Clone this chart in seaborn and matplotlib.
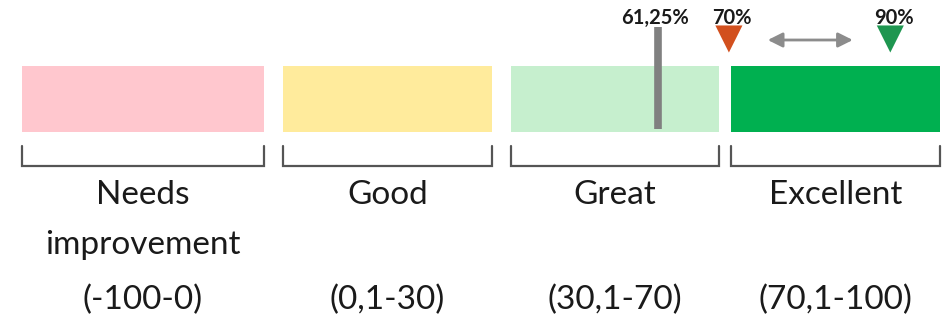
import matplotlib
matplotlib.use("Agg")
import matplotlib.pyplot as plt
import numpy as np
import pandas as pd
import seaborn as sns

sns.set_theme(style="white")
plt.rcParams["font.family"] = ["Lato", "DejaVu Sans"]

# Score bands
categories = ["Needs\nimprovement", "Good", "Great", "Excellent"]
ranges = ["(-100-0)", "(0,1-30)", "(30,1-70)", "(70,1-100)"]
band_colors = ["#FFC7CE", "#FFEB9C", "#C6EFCE", "#00B050"]

# Scores shown above the bands
current_score = 61.25
markers = [70, 90]
marker_colors = ["#D2501E", "#1E9650"]

# Layout (pixel-based canvas)
W, H = 943, 323
band_left = [22, 283, 511, 731]
band_right = [264, 492, 719, 940]
band_top, band_bottom = 66, 132
bracket_top, bracket_bottom = 146, 166
name_baseline, line_step, range_baseline = 204, 50, 309

# Linear score scale for the marker row
zero_px, px_per_unit = 164.0, 8.07

fig = plt.figure(figsize=(W / 100, H / 100), dpi=100)
ax = fig.add_axes([0, 0, 1, 1])
ax.set_xlim(0, W)
ax.set_ylim(H, 0)
ax.axis("off")

widths = np.array(band_right) - np.array(band_left)
ax.bar(band_left, band_bottom - band_top, width=widths, bottom=band_top,
       align="edge", color=band_colors, linewidth=0)

label_kw = dict(ha="center", va="baseline", fontsize=24, color="#1a1a1a")
for l, r, name, rng in zip(band_left, band_right, categories, ranges):
    ax.plot([l, l, r, r], [bracket_top, bracket_bottom, bracket_bottom, bracket_top],
            color="#555555", lw=1.6, solid_joinstyle="miter")
    cx = (l + r) / 2
    for i, line in enumerate(name.split("\n")):
        ax.text(cx, name_baseline + i * line_step, line, **label_kw)
    ax.text(cx, range_baseline, rng, **label_kw)

# Marker row on a score axis
ax2 = ax.twiny()
ax2.set_xlim(-zero_px / px_per_unit, (W - zero_px) / px_per_unit)
ax2.set_ylim(H, 0)
ax2.axis("off")

pct_kw = dict(ha="center", va="baseline", fontsize=14.5, color="#1a1a1a",
              fontweight="bold")
ax2.vlines(current_score, 27, 129, color="#808080", lw=5.5)
ax2.text(current_score - 0.4, 24, f"{current_score:g}%".replace(".", ","), **pct_kw)

mdf = pd.DataFrame({"score": markers, "row": [39, 39], "kind": ["goal", "stretch"]})
sns.scatterplot(data=mdf, x="score", y="row", hue="kind", palette=marker_colors,
                marker="v", s=380, linewidth=0, legend=False, ax=ax2)
for v in markers:
    ax2.text(v + 0.4, 24, f"{v:g}%", **pct_kw)

ax2.annotate("", xy=(markers[1], 40), xytext=(markers[0], 40),
             arrowprops=dict(arrowstyle="<|-|>", color="#8c8c8c", lw=2,
                             mutation_scale=22, shrinkA=28, shrinkB=27))
ax2.set_xlabel("")
ax2.set_ylabel("")

fig.savefig("out.png", dpi=100)
